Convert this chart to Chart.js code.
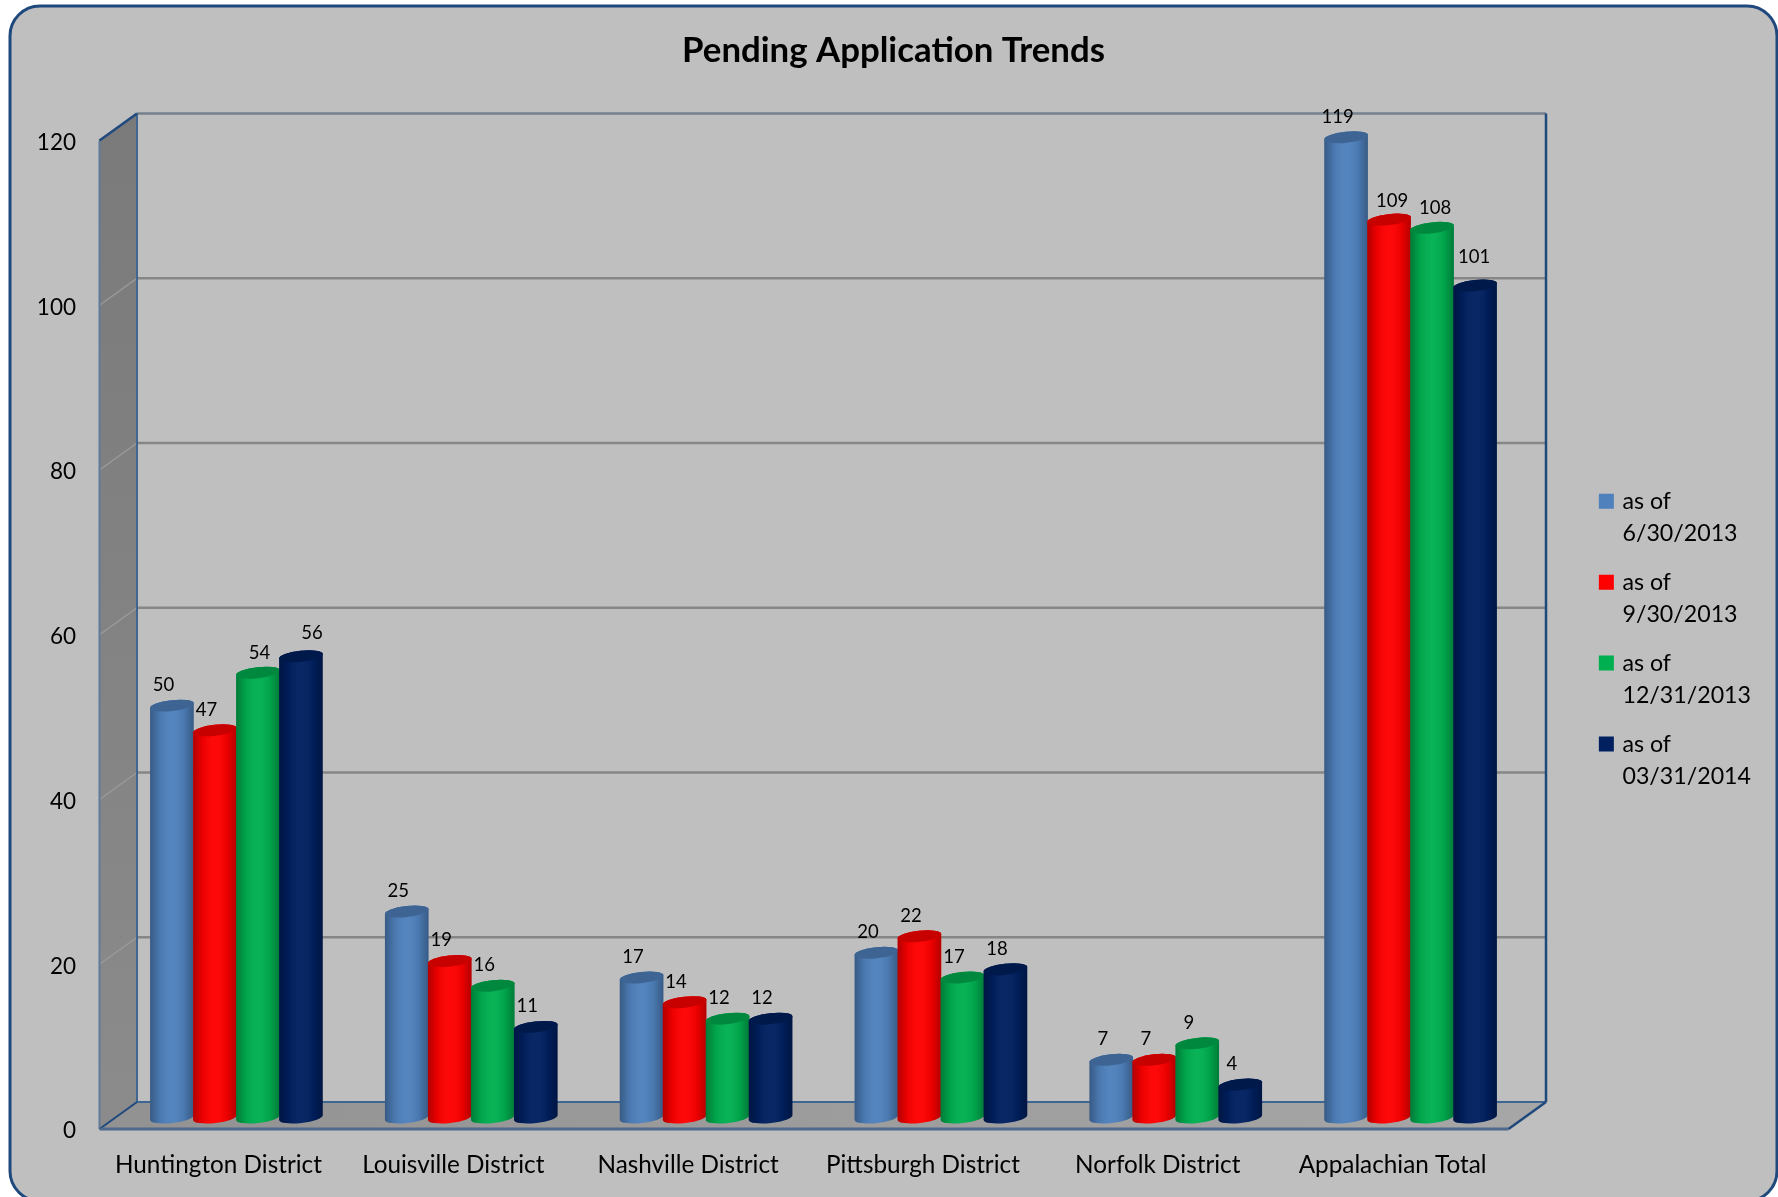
<!DOCTYPE html>
<html>
<head>
<meta charset="utf-8">
<title>Pending Application Trends</title>
<style>
    html, body { margin: 0; padding: 0; background: #fff; }
    canvas { display: block; }
</style>
<script src="https://cdn.jsdelivr.net/npm/chart.js@4/dist/chart.umd.min.js"></script>
</head>
<body>
<canvas id="pending-chart" width="1778" height="1197"></canvas>
<script>
const districts = ['Huntington District', 'Louisville District', 'Nashville District', 'Pittsburgh District', 'Norfolk District', 'Appalachian Total'];
const seriesLabels = [['as of', '6/30/2013'], ['as of', '9/30/2013'], ['as of', '12/31/2013'], ['as of', '03/31/2014']];
const seriesColors = ['#4f81bd', '#ff0000', '#00b050', '#002060'];
const june2013 = [50, 25, 17, 20, 7, 119];
const sept2013 = [47, 19, 14, 22, 7, 109];
const dec2013 = [54, 16, 12, 17, 9, 108];
const march2014 = [56, 11, 12, 18, 4, 101];

const FONT = 'Lato, Carlito, sans-serif';
const PLOT = { left: 119, right: 1528, top: 129, bottom: 1117.5 };
const PAD = { left: 26, right: 17, bottom: 15 };
// walls sit behind and in front of the plane the cylinders stand on
const BACK = { x: 18, y: -15.5 };
const FRONT = { x: -19.5, y: 11.5 };

// value labels that sit away from the usual spot above the bar
const LABEL_DEFAULT = [-8.5, -20.5];
const labelNudges = {
    '2,0': [1.5, -20], '3,0': [11, -23],
    '1,5': [3, -19], '2,5': [3, -20], '3,5': [-1, -28],
};

class CylinderElement extends Chart.BarElement {
    static id = 'cylinder';

    draw(ctx) {
        const { x, y, base, width } = this.getProps(['x', 'y', 'base', 'width']);
        const color = this.options.backgroundColor;
        const rx = width / 2;
        const ry = 5.5;
        const tilt = -0.11;
        const body = () => {
            ctx.beginPath();
            ctx.ellipse(x, y, rx, ry, tilt, Math.PI, 0);
            ctx.ellipse(x, base, rx, ry, tilt, 0, Math.PI);
            ctx.closePath();
        };

        ctx.save();
        ctx.fillStyle = color;
        body();
        ctx.fill();

        // darken towards both edges so the side reads as round
        const shade = ctx.createLinearGradient(x - rx, 0, x + rx, 0);
        shade.addColorStop(0, 'rgba(0,0,0,0.3)');
        shade.addColorStop(0.22, 'rgba(0,0,0,0.08)');
        shade.addColorStop(0.5, 'rgba(255,255,255,0.03)');
        shade.addColorStop(0.78, 'rgba(0,0,0,0.08)');
        shade.addColorStop(1, 'rgba(0,0,0,0.3)');
        ctx.fillStyle = shade;
        body();
        ctx.fill();

        // top cap
        ctx.beginPath();
        ctx.ellipse(x, y, rx, ry, tilt, 0, Math.PI * 2);
        ctx.fillStyle = color;
        ctx.fill();
        ctx.fillStyle = 'rgba(0,0,0,0.22)';
        ctx.fill();
        ctx.restore();
    }
}

class CylinderController extends Chart.BarController {
    static id = 'cylinder';
    static defaults = { ...Chart.BarController.defaults, dataElementType: 'cylinder' };
    static overrides = Chart.BarController.overrides;
}

Chart.register(CylinderElement, CylinderController);

function strokeLine(ctx, x1, y1, x2, y2, color, width) {
    ctx.beginPath();
    ctx.moveTo(x1, y1);
    ctx.lineTo(x2, y2);
    ctx.strokeStyle = color;
    ctx.lineWidth = width;
    ctx.stroke();
}

function drawBox(chart) {
    const ctx = chart.ctx;
    const { left, right } = chart.chartArea;
    const yScale = chart.scales.y;
    const backL = left + BACK.x, backR = right + BACK.x;
    const frontL = left + FRONT.x, frontR = right + FRONT.x;
    const backY = v => yScale.getPixelForValue(v) + BACK.y;
    const frontY = v => yScale.getPixelForValue(v) + FRONT.y;
    const y0 = 0, yMax = yScale.max;

    ctx.save();
    // left wall
    const wall = ctx.createLinearGradient(0, backY(yMax), 0, frontY(y0));
    wall.addColorStop(0, '#7a7a7a');
    wall.addColorStop(1, '#8b8b8b');
    ctx.beginPath();
    ctx.moveTo(frontL, frontY(yMax));
    ctx.lineTo(backL, backY(yMax));
    ctx.lineTo(backL, backY(y0));
    ctx.lineTo(frontL, frontY(y0));
    ctx.closePath();
    ctx.fillStyle = wall;
    ctx.fill();

    // floor
    const floor = ctx.createLinearGradient(frontL, 0, frontR, 0);
    floor.addColorStop(0, '#929292');
    floor.addColorStop(1, '#a6a6a6');
    ctx.beginPath();
    ctx.moveTo(frontL, frontY(y0));
    ctx.lineTo(backL, backY(y0));
    ctx.lineTo(backR, backY(y0));
    ctx.lineTo(frontR, frontY(y0));
    ctx.closePath();
    ctx.fillStyle = floor;
    ctx.fill();

    // gridlines run along the back wall and fold down the left one
    yScale.ticks.forEach(t => {
        if (t.value === y0) return;
        if (t.value !== yMax) strokeLine(ctx, frontL, frontY(t.value), backL, backY(t.value), '#9a9a9a', 1.5);
        strokeLine(ctx, backL, backY(t.value), backR, backY(t.value), t.value === yMax ? '#76818e' : '#868686', 2.5);
    });

    // box edges
    const edge = '#1f497d';
    strokeLine(ctx, frontL, frontY(yMax), frontL, frontY(y0), '#607a98', 2);
    strokeLine(ctx, backL, backY(yMax), backL, backY(y0), '#3f6593', 2);
    strokeLine(ctx, frontL, frontY(yMax), backL, backY(yMax), edge, 2.5);
    strokeLine(ctx, frontL, frontY(y0), backL, backY(y0), edge, 2);
    strokeLine(ctx, backL, backY(y0), backR, backY(y0), '#3f6593', 2);
    strokeLine(ctx, frontL, frontY(y0), frontR, frontY(y0), '#51698a', 3);
    strokeLine(ctx, frontR, frontY(y0), backR, backY(y0), edge, 2.5);
    strokeLine(ctx, backR, backY(yMax), backR, backY(y0), edge, 2.5);
    ctx.restore();
}

const cylinderFrame = {
    id: 'cylinderFrame',
    beforeDraw(chart) {
        const ctx = chart.ctx;
        ctx.save();
        ctx.beginPath();
        ctx.roundRect(10, 6, 1767, 1195, 30);
        ctx.fillStyle = '#bfbfbf';
        ctx.fill();
        ctx.strokeStyle = '#1f497d';
        ctx.lineWidth = 3;
        ctx.stroke();
        ctx.restore();
    },
    beforeDatasetsDraw(chart) {
        drawBox(chart);
        // later series stand in front of earlier ones, no clipping so the caps stay whole
        chart.getSortedVisibleDatasetMetas().forEach(meta => meta.controller.draw());
        return false;
    },
    afterDraw(chart) {
        const ctx = chart.ctx;
        ctx.save();
        ctx.font = '18.5px ' + FONT;
        ctx.fillStyle = '#000';
        ctx.textAlign = 'center';
        ctx.textBaseline = 'middle';
        chart.getSortedVisibleDatasetMetas().forEach(meta => {
            meta.data.forEach((bar, i) => {
                const nudge = labelNudges[meta.index + ',' + i] || LABEL_DEFAULT;
                const value = chart.data.datasets[meta.index].data[i];
                ctx.fillText(value, bar.x + nudge[0], bar.y + nudge[1]);
            });
        });
        ctx.restore();
    },
};

function noScalePadding(scale) {
    scale.paddingTop = scale.paddingBottom = scale.paddingLeft = scale.paddingRight = 0;
}

const seriesValues = [june2013, sept2013, dec2013, march2014];

new Chart(document.getElementById('pending-chart'), {
    type: 'cylinder',
    data: {
        labels: districts,
        datasets: seriesValues.map((values, i) => ({
            label: seriesLabels[i],
            data: values,
            backgroundColor: seriesColors[i],
            // the legend swatch is a small box with a thick outline, it keeps the text close
            borderColor: seriesColors[i],
            borderWidth: 6,
            barPercentage: 1.02,
            categoryPercentage: 0.7325,
        })),
    },
    plugins: [cylinderFrame],
    options: {
        responsive: false,
        animation: false,
        layout: { padding: { left: PAD.left, right: PAD.right, top: 0, bottom: PAD.bottom } },
        plugins: {
            tooltip: { enabled: false },
            title: {
                display: true,
                text: 'Pending Application Trends',
                color: '#000',
                font: { family: FONT, size: 34.8, weight: 'bold', lineHeight: 1.2 },
                padding: { top: 30.3, bottom: 56.94 },
            },
            legend: {
                position: 'right',
                // blank title only pushes the entries down below the centre line
                title: { display: true, text: ' ', font: { size: 10, lineHeight: 1 }, padding: { top: 0, bottom: 95 } },
                labels: {
                    color: '#000',
                    boxWidth: 9,
                    boxHeight: 9,
                    padding: 16,
                    font: { family: FONT, size: 23.2, lineHeight: 1.4 },
                },
            },
        },
        scales: {
            x: {
                grid: { display: false },
                border: { display: false },
                ticks: {
                    color: '#000',
                    padding: 25,
                    labelOffset: -18,
                    autoSkip: false,
                    maxRotation: 0,
                    font: { family: FONT, size: 24.3 },
                },
                afterFit(scale) {
                    scale.height = scale.chart.height - PAD.bottom - PLOT.bottom;
                    noScalePadding(scale);
                },
            },
            y: {
                min: 0,
                max: 120,
                grid: { display: false },
                border: { display: false },
                ticks: {
                    color: '#000',
                    stepSize: 20,
                    padding: 35,
                    labelOffset: 13.5,
                    font: { family: FONT, size: 22.5 },
                },
                afterFit(scale) {
                    scale.width = PLOT.left - PAD.left;
                    noScalePadding(scale);
                },
            },
            // empty axis holding the gap between the box and the legend
            gutter: {
                type: 'linear',
                position: 'right',
                grid: { display: false },
                border: { display: false },
                ticks: { display: false },
                afterFit(scale) {
                    const chart = scale.chart;
                    scale.width = chart.width - PAD.right - chart.legend.width - PLOT.right;
                    noScalePadding(scale);
                },
            },
        },
    },
});
</script>
</body>
</html>
